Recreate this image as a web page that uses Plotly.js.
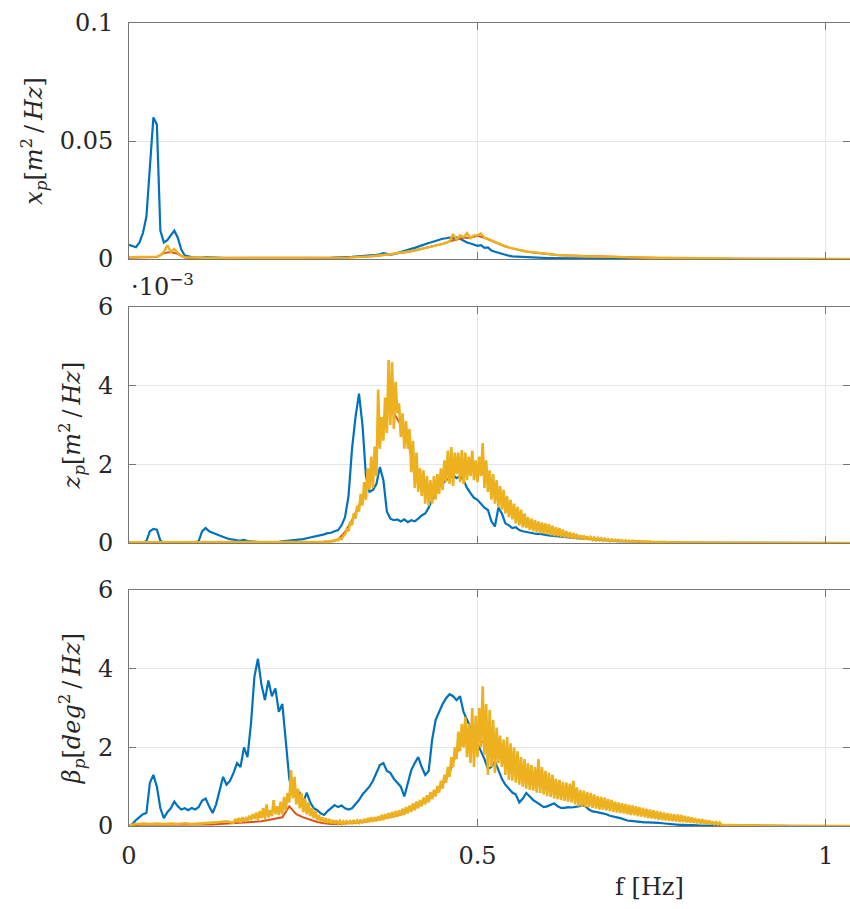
<!DOCTYPE html>
<html>
<head>
<meta charset="utf-8">
<script src="https://cdn.plot.ly/plotly-3.0.1.min.js"></script>
<style>
  html, body { margin: 0; padding: 0; background: #ffffff; }
  #psd { width: 850px; height: 909px; }
</style>
</head>
<body>
<div id="psd"></div>
<script>
// Frequency grid (Hz), 0.005 Hz resolution
const freq = [
  0,0.005,0.01,0.015,0.02,0.025,0.03,0.035,0.04,0.045,0.05,0.055,0.06,0.065,0.07,0.075,0.08,0.085,0.09,0.095,
  0.1,0.105,0.11,0.115,0.12,0.125,0.13,0.135,0.14,0.145,0.15,0.155,0.16,0.165,0.17,0.175,0.18,0.185,0.19,0.195,
  0.2,0.205,0.21,0.215,0.22,0.225,0.23,0.235,0.24,0.245,0.25,0.255,0.26,0.265,0.27,0.275,0.28,0.285,0.29,0.295,
  0.3,0.305,0.31,0.315,0.32,0.325,0.33,0.335,0.34,0.345,0.35,0.355,0.36,0.365,0.37,0.375,0.38,0.385,0.39,0.395,
  0.4,0.405,0.41,0.415,0.42,0.425,0.43,0.435,0.44,0.445,0.45,0.455,0.46,0.465,0.47,0.475,0.48,0.485,0.49,0.495,
  0.5,0.505,0.51,0.515,0.52,0.525,0.53,0.535,0.54,0.545,0.55,0.555,0.56,0.565,0.57,0.575,0.58,0.585,0.59,0.595,
  0.6,0.605,0.61,0.615,0.62,0.625,0.63,0.635,0.64,0.645,0.65,0.655,0.66,0.665,0.67,0.675,0.68,0.685,0.69,0.695,
  0.7,0.705,0.71,0.715,0.72,0.725,0.73,0.735,0.74,0.745,0.75,0.755,0.76,0.765,0.77,0.775,0.78,0.785,0.79,0.795,
  0.8,0.805,0.81,0.815,0.82,0.825,0.83,0.835,0.84,0.845,0.85,0.855,0.86,0.865,0.87,0.875,0.88,0.885,0.89,0.895,
  0.9,0.95,1.0,1.035
];

// Frequency grid (Hz), 0.01 Hz resolution
const freqCoarse = [
  0,0.01,0.02,0.03,0.04,0.05,0.06,0.07,0.08,0.09,
  0.1,0.11,0.12,0.13,0.14,0.15,0.16,0.17,0.18,0.19,
  0.2,0.21,0.22,0.23,0.24,0.25,0.26,0.27,0.28,0.29,
  0.3,0.31,0.32,0.33,0.34,0.35,0.36,0.37,0.38,0.39,
  0.4,0.41,0.42,0.43,0.44,0.45,0.46,0.47,0.48,0.49,
  0.5,0.51,0.52,0.53,0.54,0.55,0.56,0.57,0.58,0.59,
  0.6,0.61,0.62,0.63,0.64,0.65,0.66,0.67,0.68,0.69,
  0.7,0.71,0.72,0.73,0.74,0.75,0.76,0.77,0.78,0.79,
  0.8,0.81,0.82,0.83,0.84,0.85,0.86,0.87,0.88,0.89,
  0.9,0.95,1.0,1.035
];

// Frequency grid (Hz), 0.0025 Hz resolution between 0.15 and 0.85 Hz
const freqDense = [
  0,0.01,0.02,0.03,0.04,0.05,0.06,0.07,0.08,0.09,0.1,0.11,0.12,0.13,0.14,
  0.15,0.1525,0.155,0.1575,0.16,0.1625,0.165,0.1675,0.17,0.1725,0.175,0.1775,0.18,0.1825,0.185,0.1875,0.19,0.1925,0.195,0.1975,
  0.2,0.2025,0.205,0.2075,0.21,0.2125,0.215,0.2175,0.22,0.2225,0.225,0.2275,0.23,0.2325,0.235,0.2375,0.24,0.2425,0.245,0.2475,
  0.25,0.2525,0.255,0.2575,0.26,0.2625,0.265,0.2675,0.27,0.2725,0.275,0.2775,0.28,0.2825,0.285,0.2875,0.29,0.2925,0.295,0.2975,
  0.3,0.3025,0.305,0.3075,0.31,0.3125,0.315,0.3175,0.32,0.3225,0.325,0.3275,0.33,0.3325,0.335,0.3375,0.34,0.3425,0.345,0.3475,
  0.35,0.3525,0.355,0.3575,0.36,0.3625,0.365,0.3675,0.37,0.3725,0.375,0.3775,0.38,0.3825,0.385,0.3875,0.39,0.3925,0.395,0.3975,
  0.4,0.4025,0.405,0.4075,0.41,0.4125,0.415,0.4175,0.42,0.4225,0.425,0.4275,0.43,0.4325,0.435,0.4375,0.44,0.4425,0.445,0.4475,
  0.45,0.4525,0.455,0.4575,0.46,0.4625,0.465,0.4675,0.47,0.4725,0.475,0.4775,0.48,0.4825,0.485,0.4875,0.49,0.4925,0.495,0.4975,
  0.5,0.5025,0.505,0.5075,0.51,0.5125,0.515,0.5175,0.52,0.5225,0.525,0.5275,0.53,0.5325,0.535,0.5375,0.54,0.5425,0.545,0.5475,
  0.55,0.5525,0.555,0.5575,0.56,0.5625,0.565,0.5675,0.57,0.5725,0.575,0.5775,0.58,0.5825,0.585,0.5875,0.59,0.5925,0.595,0.5975,
  0.6,0.6025,0.605,0.6075,0.61,0.6125,0.615,0.6175,0.62,0.6225,0.625,0.6275,0.63,0.6325,0.635,0.6375,0.64,0.6425,0.645,0.6475,
  0.65,0.6525,0.655,0.6575,0.66,0.6625,0.665,0.6675,0.67,0.6725,0.675,0.6775,0.68,0.6825,0.685,0.6875,0.69,0.6925,0.695,0.6975,
  0.7,0.7025,0.705,0.7075,0.71,0.7125,0.715,0.7175,0.72,0.7225,0.725,0.7275,0.73,0.7325,0.735,0.7375,0.74,0.7425,0.745,0.7475,
  0.75,0.7525,0.755,0.7575,0.76,0.7625,0.765,0.7675,0.77,0.7725,0.775,0.7775,0.78,0.7825,0.785,0.7875,0.79,0.7925,0.795,0.7975,
  0.8,0.8025,0.805,0.8075,0.81,0.8125,0.815,0.8175,0.82,0.8225,0.825,0.8275,0.83,0.8325,0.835,0.8375,0.84,0.8425,0.845,0.8475,
  0.85,0.86,0.87,0.88,0.89,0.9,0.95,1.0,1.035
];

// Surge PSD x_p [m^2/Hz]
const xpBlue = [
  .006,.0055,.005,.007,.011,.018,.040,.060,.057,.012,.007,.008,.010,.012,.009,.004,.0015,.001,.0008,.0006,
  .0005,.0006,.0008,.0007,.0005,.0004,.0005,.0004,.0004,.0003,.0004,.0003,.0003,.0004,.0003,.0003,.0003,.0002,.0003,.0003,
  .0003,.0002,.0003,.0003,.0002,.0003,.0003,.0002,.0003,.0003,.0003,.0003,.0004,.0003,.0004,.0004,.0004,.0005,.0005,.0006,
  .0006,.0007,.0007,.0008,.0009,.0010,.0011,.0012,.0013,.0015,.0016,.0018,.0020,.0025,.0022,.0019,.0021,.0026,.0030,.0034,
  .0038,.0043,.0047,.0053,.0058,.0063,.0068,.0072,.0077,.0082,.0086,.0088,.0091,.0088,.0092,.0086,.0078,.0070,.0066,.0061,
  .0056,.0059,.0047,.0049,.0036,.0031,.0026,.0021,.0017,.0014,.0011,.0010,.0009,.0008,.0007,.0007,.0006,.0006,.0005,.0005,
  .0004,.0004,.0004,.0003,.0003,.0003,.0003,.0002,.0002,.0002,.0002,.0002,.0002,.0001,.0001,.0001,.0001,.0001,.0001,.0001,
  .0001,.0001,.0001,.0001,.0001,0,0,0,0,0,0,0,0,0,0,0,0,0,0,0,
  0,0,0,0,0,0,0,0,0,0,0,0,0,0,0,0,0,0,0,0,
  0,0,0,0
];
const xpRed = [
  .0005,.0005,.0005,.0006,.0008,.0025,.0030,.0022,.0006,.0004,
  .0004,.0003,.0003,.0003,.0003,.0003,.0003,.0003,.0003,.0003,
  .0003,.0003,.0003,.0003,.0003,.0003,.0003,.0003,.0003,.0003,
  .0005,.0006,.0007,.0008,.0010,.0012,.0015,.0018,.0022,.0027,
  .0030,.0036,.0043,.0050,.0056,.0064,.0075,.0082,.0090,.0090,
  .0098,.0090,.0078,.0066,.0053,.0045,.0038,.0032,.0028,.0024,
  .0020,.0018,.0016,.0015,.0013,.0012,.0011,.0010,.0009,.0009,
  .0008,.0007,.0007,.0006,.0005,.0005,.0004,.0004,.0003,.0003,
  .0003,.0002,.0002,.0002,.0002,.0002,.0001,.0001,.0001,.0001,
  .0001,0,0,0
];
const xpYellow = [
  .0008,.0008,.0007,.0008,.0008,.0009,.0008,.0009,.0010,.0015,.0030,.0058,.0030,.0042,.0025,.0012,.0008,.0007,.0006,.0006,
  .0005,.0005,.0006,.0005,.0005,.0004,.0005,.0004,.0004,.0004,.0004,.0004,.0003,.0004,.0003,.0003,.0004,.0003,.0003,.0003,
  .0003,.0003,.0003,.0003,.0003,.0003,.0003,.0003,.0003,.0003,.0003,.0003,.0003,.0003,.0003,.0004,.0004,.0004,.0004,.0004,
  .0005,.0005,.0006,.0006,.0007,.0007,.0008,.0009,.0010,.0011,.0012,.0013,.0015,.0016,.0018,.0020,.0022,.0024,.0027,.0030,
  .0030,.0033,.0036,.0040,.0043,.0047,.0050,.0053,.0056,.0060,.0064,.0068,.0075,.0105,.0082,.0100,.0092,.0110,.0088,.0100,
  .0100,.0108,.0090,.0085,.0078,.0070,.0066,.0060,.0053,.0049,.0045,.0041,.0038,.0035,.0032,.0030,.0028,.0026,.0024,.0022,
  .0020,.0019,.0018,.0017,.0016,.0015,.0014,.0014,.0013,.0013,.0012,.0012,.0011,.0011,.0010,.0010,.0010,.0009,.0009,.0009,
  .0008,.0008,.0008,.0007,.0007,.0007,.0006,.0006,.0006,.0005,.0005,.0005,.0005,.0004,.0004,.0004,.0004,.0004,.0003,.0003,
  .0003,.0003,.0003,.0003,.0002,.0002,.0002,.0002,.0002,.0002,.0002,.0002,.0002,.0001,.0001,.0001,.0001,.0001,.0001,.0001,
  .0001,0,0,0
];

// Heave PSD z_p [1e-3 m^2/Hz]
const zpBlue = [
  0,0,0,0,0.01,0.05,0.30,0.36,0.34,0.06,0.01,0,0,0,0,0,0,0,0,0.01,
  0.05,0.30,0.38,0.30,0.26,0.22,0.20,0.16,0.12,0.10,0.08,0.07,0.06,0.08,0.05,0.04,0.03,0.03,0.02,0.02,
  0.02,0.02,0.02,0.03,0.04,0.05,0.06,0.07,0.07,0.08,0.10,0.12,0.14,0.15,0.18,0.20,0.22,0.25,0.26,0.30,
  0.33,0.45,0.66,1.20,2.40,3.20,3.80,3.00,1.70,1.30,1.35,1.50,1.93,1.60,0.80,0.62,0.58,0.60,0.55,0.60,
  0.53,0.58,0.55,0.62,0.70,0.75,0.90,1.10,1.25,1.42,1.50,1.60,1.65,1.73,1.65,1.70,1.60,1.40,1.27,1.15,
  1.10,1.00,0.90,0.84,0.55,0.42,0.90,0.75,0.50,0.45,0.38,0.40,0.33,0.30,0.28,0.26,0.25,0.23,0.23,0.21,
  0.20,0.19,0.18,0.18,0.17,0.15,0.14,0.13,0.13,0.12,0.11,0.11,0.10,0.09,0.08,0.08,0.07,0.07,0.06,0.06,
  0.05,0.05,0.05,0.04,0.04,0.04,0.04,0.03,0.03,0.03,0.03,0.03,0.02,0.02,0.02,0.02,0.02,0.02,0.01,0.01,
  0.01,0.01,0.01,0.01,0.01,0.01,0.01,0.01,0.01,0.01,0,0,0,0,0,0,0,0,0,0,
  0,0,0,0
];
const zpRed = [
  0.01,0.01,0.01,0.01,0.01,0.01,0.01,0.01,0.01,0.01,
  0.01,0.01,0.01,0.01,0.01,0.01,0.01,0.01,0.01,0.01,
  0.01,0.01,0.01,0.01,0.01,0.01,0.01,0.02,0.03,0.04,
  0.09,0.28,0.58,0.95,1.40,2.00,2.80,3.40,3.30,3.00,
  2.60,1.80,1.50,1.30,1.40,1.70,1.90,1.95,1.90,1.95,
  1.85,1.75,1.40,1.15,0.95,0.80,0.62,0.52,0.44,0.38,
  0.33,0.28,0.24,0.20,0.17,0.14,0.11,0.10,0.08,0.07,
  0.06,0.05,0.05,0.04,0.035,0.025,0.02,0.02,0.015,0.01,
  0.01,0.01,0.01,0.01,0.01,0,0,0,0,0,
  0,0,0,0
];
const zpYellow = [
  0.02,0.02,0.02,0.02,0.02,0.02,0.02,0.02,0.02,0.02,0.02,0.02,0.02,0.02,0.02,
  0.02,0.02,0.02,0.02,0.02,0.02,0.02,0.02,0.02,0.02,0.02,0.02,0.02,0.02,0.02,0.02,0.02,0.02,0.02,0.02,
  0.02,0.02,0.02,0.02,0.02,0.02,0.02,0.02,0.02,0.02,0.02,0.02,0.02,0.02,0.02,0.02,0.02,0.02,0.02,0.02,
  0.02,0.02,0.02,0.02,0.02,0.02,0.02,0.02,0.02,0.02,0.03,0.03,0.03,0.04,0.03,0.05,0.04,0.06,0.05,0.08,
  0.07,0.12,0.10,0.18,0.22,0.35,0.30,0.55,0.45,0.75,0.62,0.95,0.80,1.25,0.95,1.55,1.10,1.90,1.35,2.20,
  1.40,2.45,1.70,3.90,2.40,3.20,2.60,3.70,2.80,4.65,3.00,4.60,2.90,4.10,3.30,3.55,2.70,3.30,2.40,3.10,
  2.40,2.90,1.80,2.60,1.40,2.30,1.30,1.90,1.20,1.85,1.00,1.70,0.95,1.60,1.00,1.70,1.10,1.75,1.25,1.90,
  1.35,2.10,1.55,2.35,1.50,2.44,1.45,2.30,1.75,2.30,1.55,2.36,1.50,2.30,1.60,2.20,1.70,2.35,1.60,2.10,
  1.55,2.20,1.70,2.54,1.40,2.10,1.30,1.85,1.10,1.75,1.00,1.60,0.92,1.45,0.85,1.35,0.75,1.20,0.66,1.10,
  0.60,1.00,0.50,0.92,0.45,0.85,0.40,0.75,0.38,0.66,0.33,0.62,0.30,0.58,0.28,0.55,0.25,0.52,0.25,0.50,
  0.22,0.48,0.20,0.44,0.18,0.40,0.17,0.38,0.15,0.34,0.14,0.30,0.13,0.28,0.12,0.25,0.11,0.23,0.10,0.20,
  0.09,0.19,0.09,0.17,0.08,0.15,0.08,0.14,0.07,0.13,0.07,0.12,0.06,0.11,0.06,0.10,0.05,0.09,0.05,0.08,
  0.05,0.08,0.04,0.07,0.04,0.07,0.04,0.06,0.04,0.06,0.03,0.05,0.03,0.05,0.03,0.04,0.03,0.04,0.02,0.04,
  0.02,0.03,0.02,0.03,0.02,0.03,0.02,0.03,0.02,0.02,0.01,0.02,0.01,0.02,0.01,0.02,0.01,0.02,0.01,0.01,
  0.01,0.01,0.01,0.01,0.01,0.01,0.01,0.01,0.01,0.01,0,0,0,0,0,0,0,0,0,0,
  0,0,0,0,0,0,0,0,0
];

// Pitch PSD beta_p [deg^2/Hz]
const bpBlue = [
  0,0.05,0.15,0.22,0.30,0.33,1.10,1.30,1.00,0.45,0.20,0.35,0.45,0.62,0.50,0.42,0.45,0.40,0.46,0.42,
  0.48,0.65,0.70,0.50,0.33,0.55,0.90,1.25,1.05,1.15,1.35,1.60,1.50,2.00,1.75,2.60,3.80,4.25,3.60,3.20,
  3.70,3.30,3.50,2.90,3.10,2.20,1.20,0.80,0.75,0.84,0.60,0.85,0.60,0.45,0.40,0.32,0.28,0.38,0.45,0.53,
  0.48,0.52,0.45,0.42,0.45,0.55,0.66,0.80,0.90,1.00,1.15,1.35,1.55,1.60,1.40,1.35,1.20,1.10,1.00,0.75,
  1.10,1.42,1.60,1.75,1.50,1.30,1.40,2.20,2.70,2.90,3.10,3.25,3.35,3.30,3.20,3.30,2.90,2.70,2.50,2.30,
  2.10,1.90,1.70,1.45,1.50,1.65,1.40,1.20,1.05,0.95,0.85,0.80,0.60,0.70,0.84,0.75,0.66,0.60,0.55,0.48,
  0.50,0.55,0.58,0.50,0.46,0.46,0.48,0.47,0.48,0.50,0.53,0.50,0.42,0.37,0.36,0.34,0.33,0.30,0.26,0.23,
  0.22,0.20,0.16,0.14,0.13,0.12,0.10,0.10,0.09,0.09,0.09,0.09,0.08,0.07,0.06,0.05,0.04,0.04,0.03,0.03,
  0.02,0.02,0.02,0.01,0.01,0.01,0.01,0.01,0.01,0.01,0,0,0,0,0,0,0,0,0,0,
  0,0,0,0
];
const bpRed = [
  0.02,0.03,0.03,0.03,0.03,0.03,0.03,0.03,0.03,0.03,
  0.03,0.04,0.04,0.05,0.06,0.07,0.08,0.09,0.10,0.12,
  0.15,0.18,0.22,0.50,0.30,0.22,0.16,0.10,0.07,0.05,
  0.05,0.06,0.07,0.09,0.11,0.14,0.17,0.21,0.25,0.30,
  0.40,0.48,0.58,0.68,0.85,1.05,1.35,1.85,2.20,2.20,
  2.25,2.10,2.00,1.85,1.65,1.50,1.35,1.25,1.15,1.10,
  1.00,0.92,0.86,0.82,0.74,0.68,0.64,0.58,0.55,0.50,
  0.45,0.42,0.38,0.35,0.32,0.28,0.25,0.22,0.20,0.18,
  0.15,0.13,0.11,0.09,0.06,0.03,0.025,0.02,0.015,0.01,
  0.01,0,0,0
];
const bpYellow = [
  0.02,0.05,0.06,0.05,0.06,0.05,0.06,0.05,0.07,0.05,0.06,0.07,0.08,0.10,0.12,
  0.08,0.18,0.10,0.20,0.09,0.22,0.12,0.20,0.14,0.26,0.15,0.30,0.18,0.34,0.16,0.38,0.20,0.45,0.18,0.55,
  0.22,0.40,0.25,0.66,0.30,0.50,0.28,0.62,0.30,0.74,0.40,0.84,0.60,1.42,0.70,1.25,0.55,0.95,0.45,0.84,
  0.35,0.70,0.30,0.60,0.25,0.46,0.20,0.38,0.15,0.28,0.12,0.22,0.10,0.20,0.08,0.18,0.07,0.15,0.06,0.14,
  0.06,0.13,0.05,0.12,0.06,0.14,0.05,0.12,0.07,0.15,0.06,0.14,0.08,0.16,0.07,0.18,0.09,0.20,0.10,0.22,
  0.11,0.22,0.12,0.25,0.14,0.28,0.15,0.30,0.18,0.33,0.20,0.35,0.22,0.38,0.24,0.40,0.26,0.44,0.28,0.48,
  0.32,0.52,0.36,0.58,0.40,0.62,0.45,0.66,0.50,0.72,0.55,0.78,0.60,0.86,0.68,0.92,0.75,1.02,0.85,1.15,
  0.95,1.30,1.10,1.50,1.25,1.75,1.50,2.00,1.70,2.40,1.90,2.60,2.00,2.77,1.75,2.60,1.60,3.00,1.50,2.80,
  1.75,3.00,2.00,3.55,1.80,3.10,1.30,2.95,1.50,2.70,1.35,2.50,1.60,2.30,1.50,2.20,1.30,2.26,1.17,2.10,
  1.15,2.00,1.10,1.90,1.05,1.75,1.00,1.70,0.95,1.60,0.92,1.55,0.90,1.50,0.85,1.70,0.84,1.50,0.80,1.40,
  0.76,1.35,0.74,1.30,0.70,1.20,0.68,1.17,0.66,1.12,0.64,1.10,0.62,1.08,0.60,1.15,0.55,0.98,0.50,0.92,
  0.50,0.90,0.48,0.86,0.48,0.84,0.46,0.80,0.44,0.76,0.42,0.74,0.42,0.72,0.40,0.68,0.38,0.66,0.36,0.62,
  0.34,0.60,0.33,0.58,0.32,0.56,0.30,0.54,0.28,0.52,0.27,0.50,0.25,0.48,0.24,0.46,0.22,0.44,0.20,0.42,
  0.19,0.40,0.18,0.38,0.16,0.36,0.15,0.34,0.14,0.32,0.13,0.31,0.12,0.30,0.11,0.29,0.10,0.28,0.10,0.26,
  0.09,0.24,0.08,0.22,0.08,0.20,0.07,0.18,0.06,0.17,0.05,0.15,0.05,0.14,0.04,0.12,0.03,0.10,0.03,0.09,
  0.03,0.025,0.02,0.015,0.01,0.01,0,0,0
];

// Axis ticks and labels
const xTicks = [0, 0.5, 1];
const xTickText = ['0', '0.5', '1'];
const xpTicks = [0, 0.05, 0.1];
const xpTickText = ['0', '0.05', '0.1'];
const angTicks = [0, 2, 4, 6];
const angTickText = ['0', '2', '4', '6'];

const BLUE = '#0072BD', RED = '#D95319', YELLOW = '#EDB120';
const SERIF = 'DejaVu Serif, Liberation Serif, serif';
const INK = '#262626';

function line(x, y, color, width, xa, ya) {
  return { x: x, y: y, type: 'scatter', mode: 'lines', xaxis: xa, yaxis: ya,
           line: { color: color, width: width }, hoverinfo: 'skip', showlegend: false };
}

const traces = [
  line(freq, xpBlue, BLUE, 2.2, 'x', 'y'),
  line(freqCoarse, xpRed, RED, 2, 'x', 'y'),
  line(freq, xpYellow, YELLOW, 2.4, 'x', 'y'),
  line(freq, zpBlue, BLUE, 2.2, 'x2', 'y2'),
  line(freqCoarse, zpRed, RED, 2, 'x2', 'y2'),
  line(freqDense, zpYellow, YELLOW, 2.6, 'x2', 'y2'),
  line(freq, bpBlue, BLUE, 2.2, 'x3', 'y3'),
  line(freqCoarse, bpRed, RED, 2, 'x3', 'y3'),
  line(freqDense, bpYellow, YELLOW, 2.6, 'x3', 'y3')
];

const X_MAX = 1.0345;

function xAxis(anchor, showLabels) {
  return {
    anchor: anchor, domain: [0, 1], range: [0, X_MAX], fixedrange: true,
    tickmode: 'array', tickvals: xTicks, ticktext: xTickText,
    showticklabels: showLabels, ticks: 'inside', ticklen: 7, tickwidth: 1, tickcolor: '#777',
    showline: true, linecolor: '#777', linewidth: 1, mirror: 'ticks',
    showgrid: true, gridcolor: '#e6e6e6', gridwidth: 1, zeroline: false,
    tickfont: { family: SERIF, size: 24, color: INK }, ticklabelstandoff: 8
  };
}
function yAxis(anchor, domain, range, tv, tt, title, standoff) {
  return {
    anchor: anchor, domain: domain, range: range, fixedrange: true,
    tickmode: 'array', tickvals: tv, ticktext: tt,
    ticks: 'inside', ticklen: 7, tickwidth: 1, tickcolor: '#777',
    showline: true, linecolor: '#777', linewidth: 1, mirror: 'ticks',
    showgrid: true, gridcolor: '#e6e6e6', gridwidth: 1, zeroline: false,
    tickfont: { family: SERIF, size: 24, color: INK }, ticklabelstandoff: 10,
    title: { text: title, font: { family: SERIF, size: 24, color: INK }, standoff: standoff }
  };
}

const layout = {
  width: 850, height: 909,
  margin: { l: 129, r: 0, t: 23, b: 83 },
  paper_bgcolor: '#ffffff', plot_bgcolor: '#ffffff',
  showlegend: false,
  xaxis: xAxis('y', false),
  xaxis2: xAxis('y2', false),
  xaxis3: xAxis('y3', true),
  yaxis: yAxis('x', [0.7061, 1], [0, 0.1], xpTicks, xpTickText,
    '<i>x</i><sub><i>p</i></sub>[<i>m</i><sup>2</sup>\u2009/\u2009<i>Hz</i>]', 10),
  yaxis2: yAxis('x2', [0.3524, 0.6463], [0, 6], angTicks, angTickText,
    '<i>z</i><sub><i>p</i></sub>[<i>m</i><sup>2</sup>\u2009/\u2009<i>Hz</i>]', 10),
  yaxis3: yAxis('x3', [0, 0.2939], [0, 6], angTicks, angTickText,
    '<i>β</i><sub><i>p</i></sub>[<i>deg</i><sup>2</sup>\u2009/\u2009<i>Hz</i>]', 10),
  annotations: [
    { text: '·10<sup>−3</sup>', xref: 'paper', yref: 'paper', x: 0, y: 0.6463,
      xanchor: 'left', yanchor: 'bottom', yshift: 4, showarrow: false,
      font: { family: SERIF, size: 24, color: INK } },
    { text: 'f [Hz]', xref: 'paper', yref: 'paper', x: 0.7226, y: 0,
      xanchor: 'center', yanchor: 'middle', yshift: -61, showarrow: false,
      font: { family: SERIF, size: 24, color: INK } }
  ]
};

Plotly.newPlot('psd', traces, layout, { staticPlot: true, displayModeBar: false });
</script>
</body>
</html>
